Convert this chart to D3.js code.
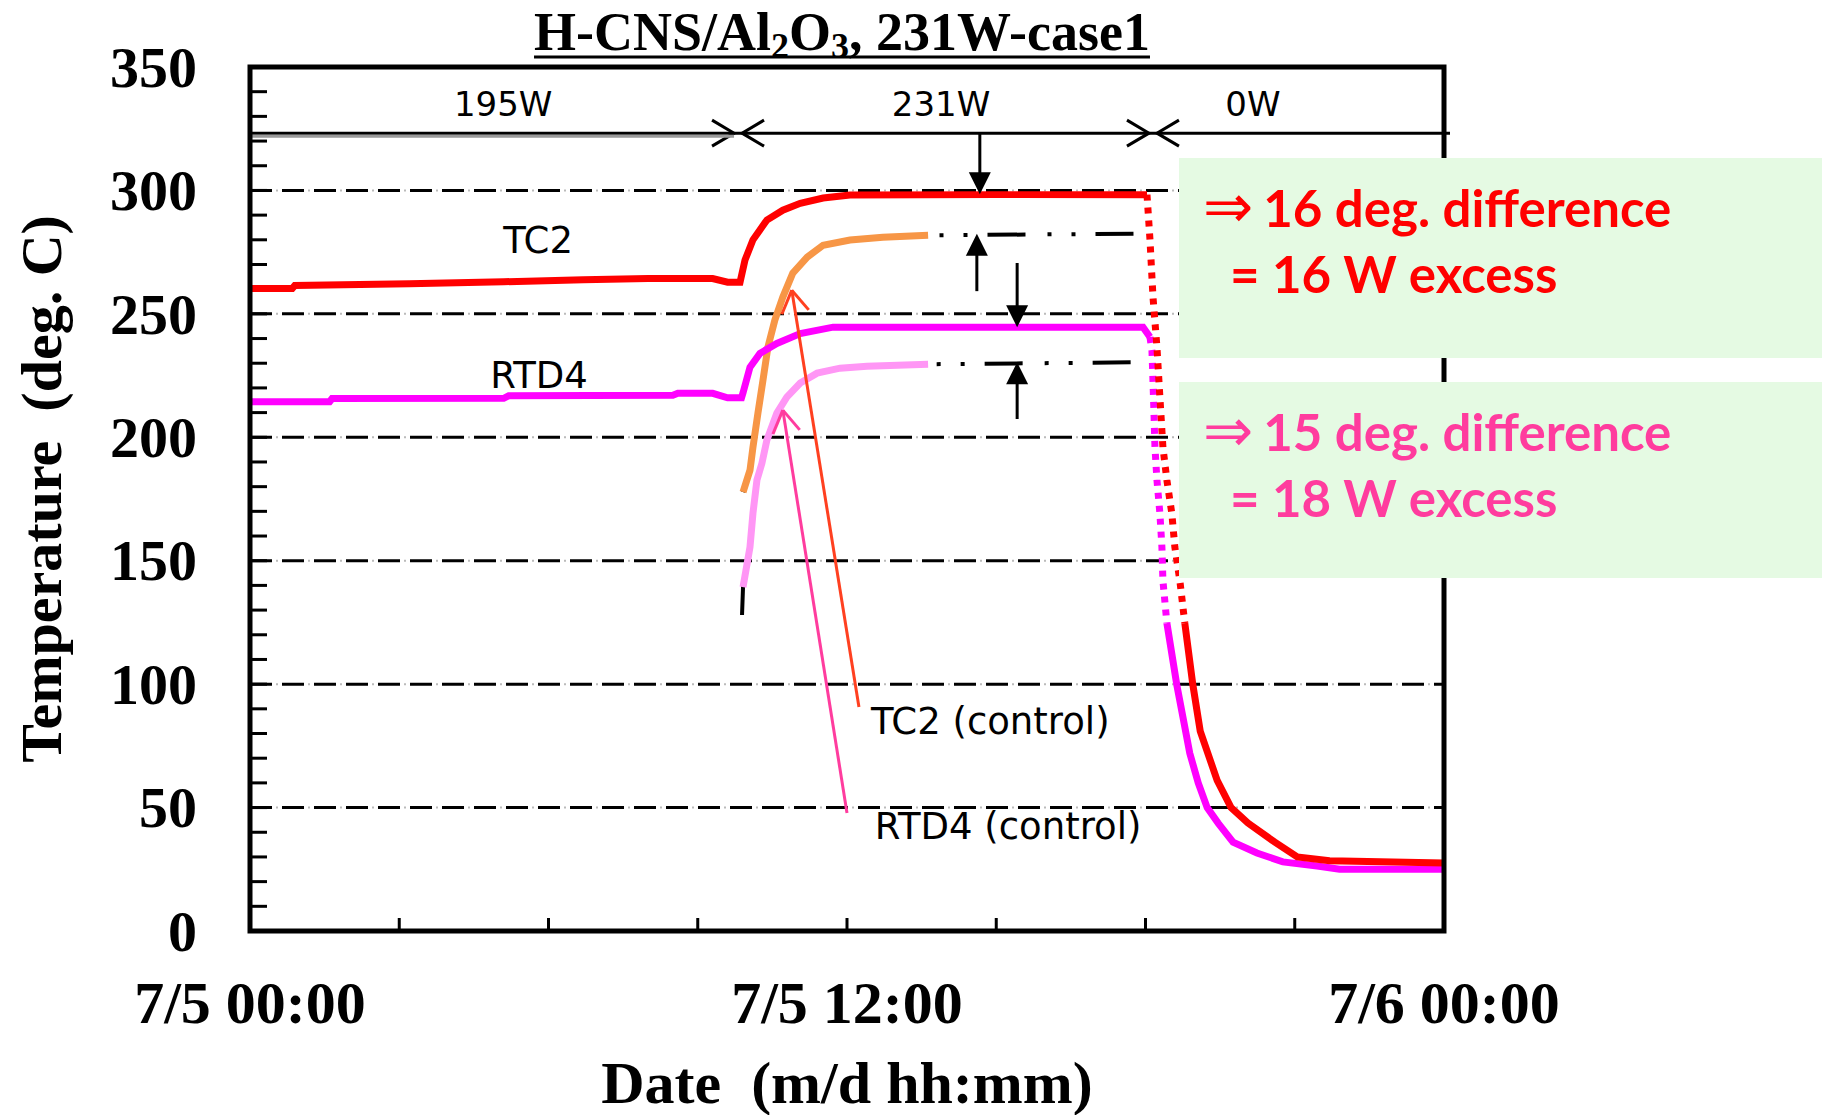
<!DOCTYPE html>
<html>
<head>
<meta charset="utf-8">
<script src="https://cdn.jsdelivr.net/npm/d3@7"></script>
<style>
  body { margin: 0; background: #fff; }
  .serif { font-family: "Liberation Serif", "Times New Roman", serif; font-weight: bold; }
  .sans { font-family: "DejaVu Sans", Tahoma, sans-serif; }
  .note { font-family: Lato, Calibri, sans-serif; font-weight: bold; }
  .arrow { font-family: "DejaVu Sans", sans-serif; font-weight: normal; }
</style>
</head>
<body>
<div id="chart"></div>
<script>
// [hours since 7/5 00:00, deg C]
var tc2 = [[0,260.3],[0.85,260.3],[0.9,261.5],[3.2,262.2],[5.1,263],[6.7,263.8],[8,264.3],[9.3,264.3],
  [9.6,262.8],[9.85,262.8],[9.95,271.8],[10.11,280],[10.39,288],[10.71,292],[11.06,294.8],[11.52,296.9],
  [12.06,298.1],[15,298.3],[18.03,298.3],[18.09,280],[18.15,257],[18.23,236.5],[18.29,216],[18.35,196],
  [18.43,182.6],[18.53,169],[18.59,155.5],[18.69,142],[18.79,124.7],[18.95,100],[19.1,81],[19.44,61],
  [19.72,50],[20.06,43.7],[20.6,36],[21.05,30],[21.7,28.5],[24,27.5]];

var rtd4 = [[0,214.4],[1.6,214.4],[1.65,215.7],[5.1,215.8],[5.2,216.8],[8.5,217],[8.6,217.8],[9.3,217.8],
  [9.6,216],[9.88,216],[9.91,218],[10.05,228.4],[10.25,234],[10.59,238],[11.06,242],[11.72,244.6],
  [17.95,244.6],[18.09,240.6],[18.13,235],[18.15,223],[18.17,210],[18.19,196],[18.23,182.7],[18.29,169],
  [18.33,155.5],[18.35,142],[18.43,124.7],[18.63,99.6],[18.89,72],[19.06,60],[19.24,50],[19.46,43.7],
  [19.76,36],[20.24,31.6],[20.76,28],[21.45,26.3],[21.9,25],[24,25]];

var tc2Ctrl = [[9.91,177.8],[10.05,186.7],[10.11,196],[10.21,209.8],[10.31,223],[10.41,236.5],[10.55,247.5],
  [10.71,256.8],[10.91,266.5],[11.2,273],[11.52,277.8],[12.06,279.9],[12.72,281],[13.63,281.8],[17.83,282.5]];

var rtd4Ctrl = [[9.89,128],[9.91,139.3],[10.05,155.5],[10.11,169.3],[10.19,182.7],[10.29,189.5],[10.39,198.9],
  [10.59,209.8],[10.79,216.3],[11.06,222],[11.4,226],[11.86,228],[12.4,228.8],[13.63,229.6],[17.95,230.4]];

var yTicks = [0, 50, 100, 150, 200, 250, 300, 350];
var xTickHours = [0, 12, 24];
var xTickLabels = ["7/5 00:00", "7/5 12:00", "7/6 00:00"];

// heater power periods
var powerLabels = ["195W", "231W", "0W"];
var powerLabelHours = [5.09, 13.89, 20.16];
var powerSwitchHours = [9.81, 18.15];
var powerLineTemp = 323.2;

// [hour, from temp, to temp]
var diffArrows = [[14.67, 323.2, 298.5], [14.61, 259.2, 282.5], [15.42, 270.6, 244.6], [15.42, 207.4, 230.4]];

var noteLines = [["16 deg. difference", "= 16 W excess"], ["15 deg. difference", "= 18 W excess"]];

var width = 1827, height = 1115;
var plot = {left: 250, right: 1444, top: 67, bottom: 931};

var svg = d3.select("#chart").append("svg")
    .attr("width", width)
    .attr("height", height);

var x = d3.scaleLinear().domain([0, 24]).range([plot.left, plot.right]);
var y = d3.scaleLinear().domain([0, 350]).range([plot.bottom, plot.top]);

var line = d3.line()
    .x(function (d) { return x(d[0]); })
    .y(function (d) { return y(d[1]); });

function between(data, a, b) {
  return data.filter(function (d) { return d[0] >= a && d[0] <= b; });
}

// dashed grid every 50 deg, faint dot in each gap
var grid = svg.append("g");
[50, 100, 150, 200, 250, 300].forEach(function (v) {
  grid.append("line")
      .attr("x1", plot.left).attr("x2", plot.right)
      .attr("y1", y(v)).attr("y2", y(v))
      .attr("stroke", "#000").attr("stroke-width", 3)
      .attr("stroke-dasharray", "22,10");
  grid.append("line")
      .attr("x1", plot.left).attr("x2", plot.right)
      .attr("y1", y(v)).attr("y2", y(v))
      .attr("stroke", "#bbb").attr("stroke-width", 2)
      .attr("stroke-dasharray", "2,30").attr("stroke-dashoffset", 6);
});

// minor ticks inside the frame
var ticks = svg.append("g").attr("stroke", "#000").attr("stroke-width", 3);
d3.range(10, 350, 10).forEach(function (v) {
  ticks.append("line")
      .attr("x1", plot.left).attr("x2", plot.left + 17)
      .attr("y1", y(v)).attr("y2", y(v));
});
d3.range(3, 24, 3).forEach(function (h) {
  ticks.append("line")
      .attr("x1", x(h)).attr("x2", x(h))
      .attr("y1", plot.bottom).attr("y2", plot.bottom - 13);
});

// control runs: black dash-dot, coloured over the warm-up part
[tc2Ctrl, rtd4Ctrl].forEach(function (s) {
  svg.append("path")
      .attr("d", line(s))
      .attr("fill", "none")
      .attr("stroke", "#000").attr("stroke-width", 4)
      .attr("stroke-dasharray", "38,22,4,20,4,20");
});
svg.append("path")
    .attr("d", line(between(tc2Ctrl, 9.9, 13.63)))
    .attr("fill", "none").attr("stroke", "#F79646").attr("stroke-width", 7);
svg.append("path")
    .attr("d", line(between(rtd4Ctrl, 9.9, 13.63)))
    .attr("fill", "none").attr("stroke", "#FF96F5").attr("stroke-width", 7);

// main runs; the fast drop after power-off shows as separate points
function drawRun(data, color, a, b) {
  svg.append("path").attr("d", line(between(data, 0, a)))
      .attr("fill", "none").attr("stroke", color).attr("stroke-width", 7);
  svg.append("path").attr("d", line(between(data, a, b)))
      .attr("fill", "none").attr("stroke", color).attr("stroke-width", 7)
      .attr("stroke-dasharray", "6,7");
  svg.append("path").attr("d", line(between(data, b, 24)))
      .attr("fill", "none").attr("stroke", color).attr("stroke-width", 7);
}
drawRun(rtd4, "#FF00FF", 18.09, 18.43);
drawRun(tc2, "#FF0000", 18.03, 18.79);

// pointers from the control labels
function pointer(p, color) {
  var x0 = x(p[0][0]), y0 = y(p[0][1]), x1 = x(p[1][0]), y1 = y(p[1][1]);
  var ang = Math.atan2(y0 - y1, x0 - x1), len = 26;
  var g = svg.append("g").attr("stroke", color).attr("stroke-width", 3).attr("fill", "none");
  g.append("line").attr("x1", x0).attr("y1", y0).attr("x2", x1).attr("y2", y1);
  [-0.55, 0.55].forEach(function (da) {
    g.append("line").attr("x1", x1).attr("y1", y1)
        .attr("x2", x1 + len * Math.cos(ang + da))
        .attr("y2", y1 + len * Math.sin(ang + da));
  });
}
pointer([[12.24, 90.7], [10.89, 259.6]], "#FF4020");
pointer([[12.0, 47.8], [10.71, 211]], "#FF3C9E");

// power period line with chevrons at each switch
var powerLine = svg.append("g").attr("stroke", "#000").attr("stroke-width", 3).attr("fill", "none");
var yp = y(powerLineTemp);
svg.append("line")
    .attr("x1", plot.left).attr("x2", x(powerSwitchHours[0]) - 4)
    .attr("y1", yp + 3).attr("y2", yp + 3)
    .attr("stroke", "#999").attr("stroke-width", 3);
powerLine.append("line").attr("x1", plot.left).attr("x2", x(24) + 6).attr("y1", yp).attr("y2", yp);
powerSwitchHours.forEach(function (h) {
  var xr = x(h) - 4, xl = x(h) + 4;
  powerLine.append("path").attr("d", "M" + (xr - 22) + "," + (yp - 13) + "L" + xr + "," + yp + "L" + (xr - 22) + "," + (yp + 13));
  powerLine.append("path").attr("d", "M" + (xl + 22) + "," + (yp - 13) + "L" + xl + "," + yp + "L" + (xl + 22) + "," + (yp + 13));
});
svg.selectAll(".power")
    .data(powerLabels)
  .enter().append("text")
    .attr("class", "sans")
    .attr("x", function (d, i) { return x(powerLabelHours[i]); })
    .attr("y", y(330))
    .attr("text-anchor", "middle")
    .attr("font-size", 34)
    .text(function (d) { return d; });

// difference arrows
diffArrows.forEach(function (a) {
  var xa = x(a[0]), y0 = y(a[1]), y1 = y(a[2]);
  var dir = y1 > y0 ? 1 : -1;
  svg.append("line")
      .attr("x1", xa).attr("x2", xa).attr("y1", y0).attr("y2", y1 - dir * 18)
      .attr("stroke", "#000").attr("stroke-width", 3);
  svg.append("path")
      .attr("d", "M" + xa + "," + y1 + "L" + (xa - 11) + "," + (y1 - dir * 22) + "L" + (xa + 11) + "," + (y1 - dir * 22) + "Z")
      .attr("fill", "#000");
});

// series labels
var seriesLabels = [
  {text: "TC2", h: 5.79, t: 274.6, anchor: "middle"},
  {text: "RTD4", h: 5.81, t: 219.9, anchor: "middle"},
  {text: "TC2 (control)", h: 12.48, t: 79.8, anchor: "start"},
  {text: "RTD4 (control)", h: 12.56, t: 37.3, anchor: "start"}
];
seriesLabels.forEach(function (d) {
  svg.append("text")
      .attr("class", "sans")
      .attr("x", x(d.h)).attr("y", y(d.t))
      .attr("text-anchor", d.anchor)
      .attr("font-size", 37)
      .text(d.text);
});

// frame
svg.append("rect")
    .attr("x", plot.left).attr("y", plot.top)
    .attr("width", plot.right - plot.left).attr("height", plot.bottom - plot.top)
    .attr("fill", "none").attr("stroke", "#000").attr("stroke-width", 5);

// notes on the right
var boxes = [{y: 158, h: 200, color: "#FF0000"}, {y: 382, h: 196, color: "#FF3C9E"}];
boxes.forEach(function (b, i) {
  svg.append("rect")
      .attr("x", 1179).attr("y", b.y)
      .attr("width", 643).attr("height", b.h)
      .attr("fill", "#E5FAE3");
  var t1 = svg.append("text").attr("class", "note")
      .attr("x", 1203).attr("y", b.y + 69)
      .attr("font-size", 51).attr("fill", b.color);
  t1.append("tspan").attr("class", "arrow").attr("font-size", 60).text("\u21D2");
  t1.append("tspan").attr("dx", 10).text(noteLines[i][0]);
  svg.append("text").attr("class", "note")
      .attr("x", 1230).attr("y", b.y + 135)
      .attr("font-size", 51).attr("fill", b.color)
      .text(noteLines[i][1]);
});

// axis labels
svg.selectAll(".ytick")
    .data(yTicks)
  .enter().append("text")
    .attr("class", "serif")
    .attr("x", 197)
    .attr("y", function (d) { return y(d); })
    .attr("dy", "0.34em")
    .attr("text-anchor", "end")
    .attr("font-size", 58)
    .text(function (d) { return d; });

svg.selectAll(".xtick")
    .data(xTickHours)
  .enter().append("text")
    .attr("class", "serif")
    .attr("x", function (d) { return x(d); })
    .attr("y", 1023)
    .attr("text-anchor", "middle")
    .attr("font-size", 60)
    .text(function (d, i) { return xTickLabels[i]; });

svg.append("text")
    .attr("class", "serif")
    .attr("x", 847).attr("y", 1103)
    .attr("text-anchor", "middle")
    .attr("font-size", 60)
    .attr("xml:space", "preserve")
    .text("Date  (m/d hh:mm)");

svg.append("text")
    .attr("class", "serif")
    .attr("transform", "translate(61,489) rotate(-90)")
    .attr("text-anchor", "middle")
    .attr("font-size", 58)
    .attr("xml:space", "preserve")
    .text("Temperature  (deg. C)");

// title with subscripts and underline
var title = svg.append("text")
    .attr("class", "serif")
    .attr("x", 842).attr("y", 50)
    .attr("text-anchor", "middle")
    .attr("font-size", 54);
title.append("tspan").text("H-CNS/Al");
title.append("tspan").attr("dy", 8).attr("font-size", 36).text("2");
title.append("tspan").attr("dy", -8).text("O");
title.append("tspan").attr("dy", 8).attr("font-size", 36).text("3");
title.append("tspan").attr("dy", -8).text(", 231W-case1");
var tb = title.node().getBBox();
svg.append("line")
    .attr("x1", tb.x).attr("x2", tb.x + tb.width)
    .attr("y1", 57).attr("y2", 57)
    .attr("stroke", "#000").attr("stroke-width", 3);
</script>
</body>
</html>
